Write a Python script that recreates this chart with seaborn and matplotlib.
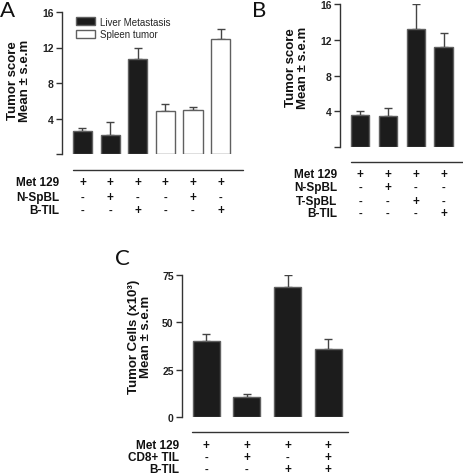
import numpy as np
import pandas as pd
import matplotlib
matplotlib.use("Agg")
import matplotlib.pyplot as plt
import seaborn as sns
from matplotlib.lines import Line2D
from matplotlib.transforms import blended_transform_factory

sns.set_theme(style="ticks")
plt.rcParams['font.family'] = ['Liberation Sans', 'DejaVu Sans']

# ---------------- data ----------------
# Panel A
a_conditions = ["A1", "A2", "A3", "A4", "A5", "A6"]
a_tissue = ["Liver Metastasis", "Liver Metastasis", "Liver Metastasis",
            "Spleen tumor", "Spleen tumor", "Spleen tumor"]
a_mean = [2.55, 2.17, 10.75, 4.9, 4.98, 12.92]
a_sem = [0.41, 1.43, 1.2, 0.72, 0.34, 1.12]
a_rows = ["Met 129", "N-SpBL", "B-TIL"]
a_signs = [["+", "+", "+", "+", "+", "+"],
           ["-", "+", "-", "-", "+", "-"],
           ["-", "-", "+", "-", "-", "+"]]
a_yticks = [0, 4, 8, 12, 16]
a_yticklabels = ["", "4", "8", "12", "16"]

# Panel B
b_conditions = ["B1", "B2", "B3", "B4"]
b_mean = [3.54, 3.5, 13.2, 11.2]
b_sem = [0.52, 0.9, 2.76, 1.6]
b_rows = ["Met 129", "N-SpBL", "T-SpBL", "B-TIL"]
b_signs = [["+", "+", "+", "+"],
           ["-", "+", "-", "-"],
           ["-", "-", "+", "-"],
           ["-", "-", "-", "+"]]
b_yticks = [0, 4, 8, 12, 16]
b_yticklabels = ["", "4", "8", "12", "16"]

# Panel C
c_conditions = ["C1", "C2", "C3", "C4"]
c_mean = [40.2, 10.4, 68.7, 36.0]
c_sem = [3.5, 1.9, 6.1, 5.3]
c_rows = ["Met 129", "CD8+ TIL", "B-TIL"]
c_signs = [["+", "+", "+", "+"],
           ["-", "+", "-", "+"],
           ["-", "-", "+", "+"]]
c_yticks = [0, 25, 50, 75]
c_yticklabels = ["0", "25", "50", "75"]

# ---------------- layout ----------------
W, H = 464, 477
fig = plt.figure(figsize=(W / 100, H / 100), dpi=100)
fig.patch.set_facecolor("white")

BAR_DARK = "#1c1c1c"
EDGE = "#606060"
ERR = "#444444"


def fx(x):
    return x / W


def fy(y):
    return 1 - y / H


def make_axes(left, right, top, bottom):
    return fig.add_axes([fx(left), fy(bottom), (right - left) / W, (bottom - top) / H])


def style_axes(ax, ylim, yticks, yticklabels, xlim):
    ax.set_facecolor("white")
    ax.set_ylim(*ylim)
    ax.set_xlim(*xlim)
    ax.set_yticks(yticks)
    ax.set_yticklabels(yticklabels, fontweight="bold", fontsize=7.5)
    ax.set_xticks([])
    ax.set_xlabel("")
    ax.set_ylabel("")
    for s in ["top", "right", "bottom"]:
        ax.spines[s].set_visible(False)
    ax.spines["left"].set_color("#333333")
    ax.spines["left"].set_linewidth(1.0)
    ax.spines["left"].set_bounds(ylim[0], ylim[1])
    ax.tick_params(axis="y", direction="out", length=4, width=1.0,
                   color="#333333", pad=2, labelcolor="#222222")


def draw_err(ax, means, sems):
    x = np.arange(len(means))
    ax.errorbar(x, means, yerr=[np.zeros(len(sems)), sems], fmt="none",
                ecolor=ERR, elinewidth=1.0, capsize=2.6, capthick=1.0, zorder=1)


def table(ax, rows, signs, row_ys, label_x, line_y, line_x0, line_x1):
    tr = blended_transform_factory(ax.transData, fig.transFigure)
    for r, (name, sg, yy) in enumerate(zip(rows, signs, row_ys)):
        fig.text(fx(label_x), fy(yy), name, ha="right", va="center",
                 fontsize=8.5, fontweight="bold", color="#111111")
        for i, s in enumerate(sg):
            ax.text(i, fy(yy), s, transform=tr, ha="center", va="center",
                    fontsize=8.5 if s == "+" else 8, fontweight="bold",
                    color="#111111", clip_on=False)
    fig.add_artist(Line2D([fx(line_x0), fx(line_x1)], [fy(line_y), fy(line_y)],
                          transform=fig.transFigure, color="#333333", lw=1.0))


def ylabel(text, x, y):
    fig.text(fx(x), fy(y), text, rotation=90, ha="center", va="center",
             fontsize=9.5, fontweight="bold", color="#111111",
             multialignment="center", linespacing=1.0)


def letter(text, x, y):
    fig.text(fx(x), fy(y), text, ha="left", va="top", fontsize=16,
             fontweight="normal", family=["Lato", "DejaVu Sans"], color="#111111")


# ---------------- Panel A ----------------
axA = make_axes(62, 243, 13, 155)
dfA = pd.DataFrame({"cond": a_conditions, "mean": a_mean, "tissue": a_tissue})
sns.barplot(data=dfA, x="cond", y="mean", hue="tissue", dodge=False,
            palette={"Liver Metastasis": BAR_DARK, "Spleen tumor": "white"},
            width=0.69, edgecolor=EDGE, linewidth=1.0, errorbar=None, ax=axA,
            zorder=2)
draw_err(axA, a_mean, a_sem)
style_axes(axA, (0, 16), a_yticks, a_yticklabels, (-0.74, 5.81))
leg = axA.legend(loc="upper left", bbox_to_anchor=(0.055, 0.995), frameon=False,
                 fontsize=7, handlelength=2.0, handleheight=0.9,
                 handletextpad=0.5, labelspacing=0.25, borderaxespad=0)
for h in leg.legend_handles:
    h.set_edgecolor(EDGE)
table(axA, a_rows, a_signs, [183, 198, 211], 59, 171, 73, 243)
ylabel("Tumor score\nMean ± s.e.m", 19.5, 81)
letter("A", 0, 1)

# ---------------- Panel B ----------------
axB = make_axes(340, 463, 5, 148)
dfB = pd.DataFrame({"cond": b_conditions, "mean": b_mean})
sns.barplot(data=dfB, x="cond", y="mean", color=BAR_DARK, saturation=1,
            width=0.66, edgecolor=EDGE, linewidth=1.0, errorbar=None, ax=axB,
            zorder=2)
draw_err(axB, b_mean, b_sem)
style_axes(axB, (0, 16), b_yticks, b_yticklabels, (-0.72, 3.7))
table(axB, b_rows, b_signs, [175, 188, 202, 214], 337, 163, 351, 463)
ylabel("Tumor score\nMean ± s.e.m", 297, 68)
letter("B", 252, 1)

# ---------------- Panel C ----------------
axC = make_axes(182, 348, 276, 418)
dfC = pd.DataFrame({"cond": c_conditions, "mean": c_mean})
sns.barplot(data=dfC, x="cond", y="mean", color=BAR_DARK, saturation=1,
            width=0.66, edgecolor=EDGE, linewidth=1.0, errorbar=None, ax=axC,
            zorder=2)
draw_err(axC, c_mean, c_sem)
style_axes(axC, (0, 75), c_yticks, c_yticklabels, (-0.59, 3.48))
table(axC, c_rows, c_signs, [446, 458, 470], 179, 433, 192, 348)
ylabel("Tumor Cells (x10³)\nMean ± s.e.m", 140, 337)
letter("C", 115, 249)

fig.savefig("out.png", dpi=100, facecolor="white")
